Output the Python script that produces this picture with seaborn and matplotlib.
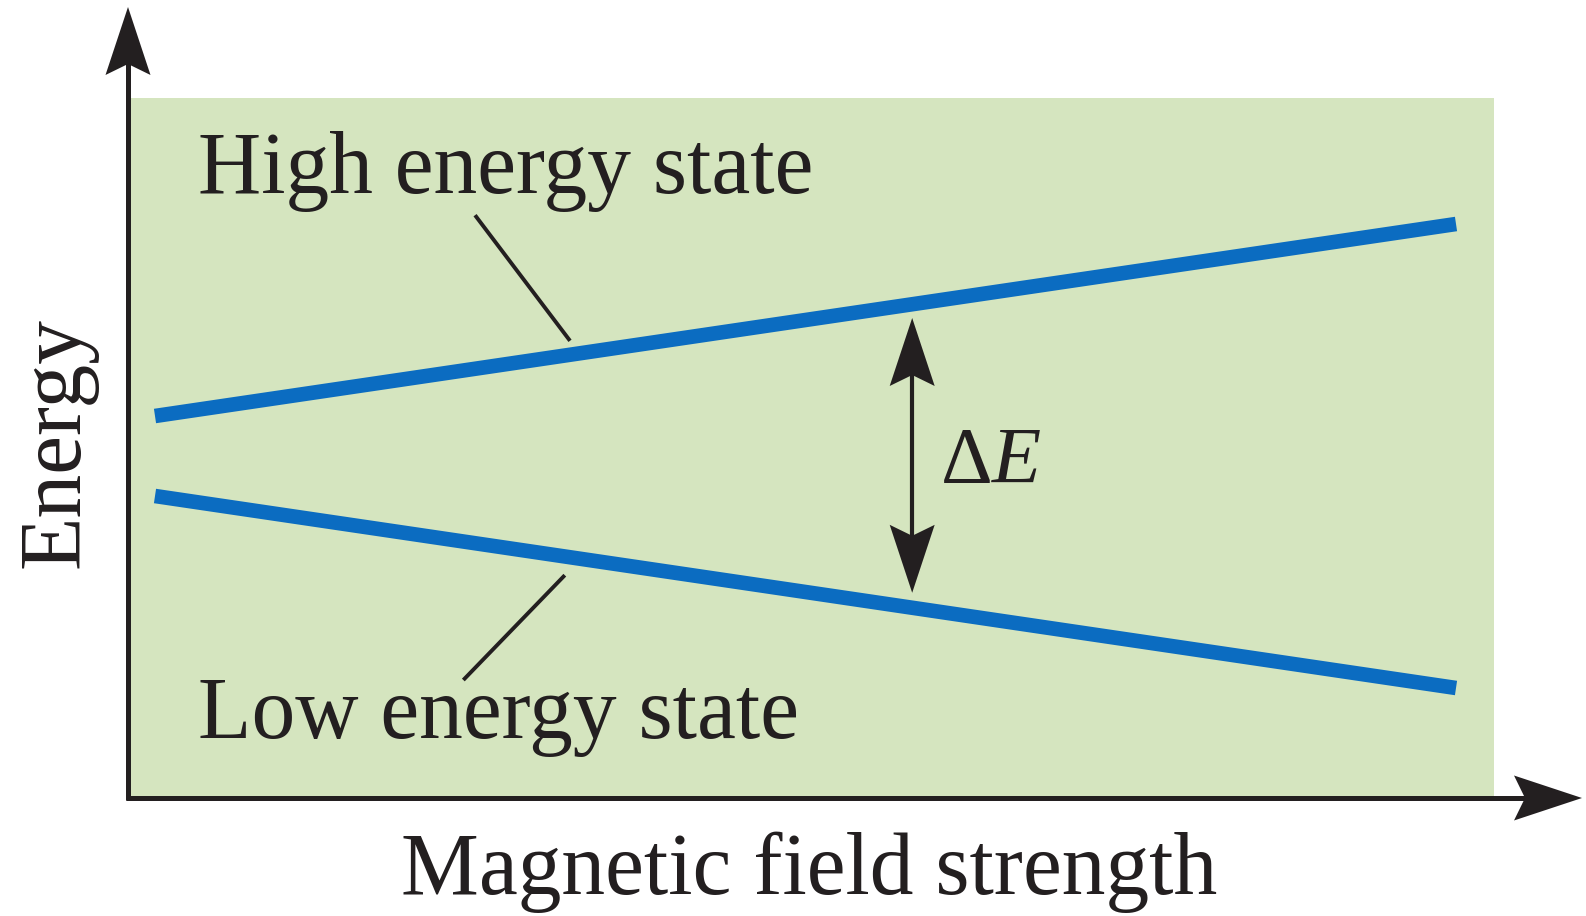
import numpy as np
import pandas as pd
import matplotlib.pyplot as plt
from matplotlib.patches import Polygon
from matplotlib.lines import Line2D
from matplotlib.transforms import IdentityTransform
import seaborn as sns

# chart data
field = [0, 10]
high_energy = [0.5, 2.9]
low_energy = [-0.5, -2.9]
state_names = ['High energy state', 'Low energy state']
delta_label = r'$\Delta E$'
x_label = 'Magnetic field strength'
y_label = 'Energy'

BLUE = '#0b6cc1'
GREEN = '#d5e5bf'
INK = '#231f20'
W, H = 1586, 916

sns.set_style('white')
plt.rcParams['font.family'] = ['Liberation Serif', 'DejaVu Serif']
plt.rcParams['mathtext.fontset'] = 'custom'
plt.rcParams['mathtext.rm'] = 'Liberation Serif'
plt.rcParams['mathtext.it'] = 'Liberation Serif:italic'
FS = 63


def px(x, y):
    """Reference pixel (top-left origin) -> display coords."""
    return np.array([x, H - y], float)


def arrow_head(fig, tip, direction, length=68, width=45, notch=57):
    """Filled notched arrowhead drawn in display pixels."""
    d = np.asarray(direction, float)
    d = d / np.linalg.norm(d)
    n = np.array([-d[1], d[0]])
    tip = np.asarray(tip, float)
    pts = [tip, tip - length * d + width / 2 * n, tip - notch * d,
           tip - length * d - width / 2 * n]
    fig.add_artist(Polygon(pts, closed=True, transform=IdentityTransform(),
                           facecolor=INK, edgecolor='none', zorder=5))


def line(fig, p0, p1, lw=3.6):
    fig.add_artist(Line2D([p0[0], p1[0]], [p0[1], p1[1]], color=INK, lw=lw,
                          transform=IdentityTransform(), solid_capstyle='butt', zorder=4))


df = pd.DataFrame({
    'field': field * 2,
    'energy': high_energy + low_energy,
    'state': [state_names[0]] * 2 + [state_names[1]] * 2,
})

fig = plt.figure(figsize=(W / 100, H / 100), dpi=100)
ax = fig.add_axes([128 / W, (H - 798) / H, (1494 - 128) / W, (798 - 98) / H])
sns.lineplot(data=df, x='field', y='energy', hue='state',
             palette={state_names[0]: BLUE, state_names[1]: BLUE},
             legend=False, lw=10.5, solid_capstyle='butt', ax=ax)
ax.set_facecolor(GREEN)
ax.set_xlim(-0.2075, 10.292)
ax.set_ylim(-4.275, 4.475)
ax.set_xticks([])
ax.set_yticks([])
ax.set_xlabel('')
ax.set_ylabel('')
sns.despine(ax=ax, left=True, bottom=True)

# state labels with leader lines
ax.text(0.33, 3.29, state_names[0], fontsize=FS, color=INK, ha='left', va='baseline')
ax.text(0.33, -3.525, state_names[1], fontsize=FS, color=INK, ha='left', va='baseline')
ax.plot([2.46, 3.19], [3.01, 1.44], color=INK, lw=2.8, solid_capstyle='butt')
ax.plot([2.37, 3.15], [-2.80, -1.49], color=INK, lw=2.8, solid_capstyle='butt')

# delta E double arrow
top = ax.transData.transform((5.82, 1.725))
bot = ax.transData.transform((5.82, -1.71))
line(fig, top - np.array([0, 57]), bot + np.array([0, 57]), lw=3.0)
arrow_head(fig, top, (0, 1))
arrow_head(fig, bot, (0, -1))
ax.text(6.03, -0.34, delta_label, fontsize=58, color=INK, ha='left', va='baseline')

# axes with arrows
corner = px(128, 798)
line(fig, corner + np.array([0, -2]), px(128, 60), lw=3.6)
line(fig, corner + np.array([-2, 0]), px(1525, 798), lw=3.6)
arrow_head(fig, px(128, 7), (0, 1))
arrow_head(fig, px(1582, 798), (1, 0))

fig.text(57 / W, 1 - 443 / H, y_label, fontsize=FS, color=INK, rotation=90,
         ha='center', va='center')
fig.text(809 / W, 1 - 894 / H, x_label, fontsize=FS, color=INK,
         ha='center', va='baseline')

fig.savefig('out.png', dpi=100)
